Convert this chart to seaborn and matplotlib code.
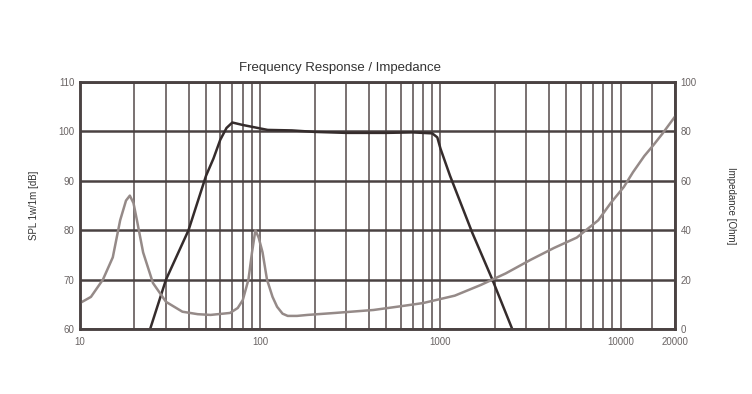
import matplotlib
matplotlib.use("Agg")
import matplotlib.pyplot as plt
import matplotlib.ticker as mticker
import seaborn as sns
import pandas as pd

# SPL curve (left axis, dB)
spl_freq = [24.5, 30, 40, 50, 55, 60, 65, 70, 80, 88, 110, 150, 200, 300, 500, 700, 900, 960, 1000, 1130, 1500, 1940, 2500]
spl_db = [60, 70, 80, 91.0, 94.5, 98.3, 100.7, 101.8, 101.3, 101.0, 100.3, 100.2, 99.9, 99.7, 99.7, 99.8, 99.6, 98.8, 96.5, 91, 79.5, 70, 60]

# impedance curve (right axis, ohm)
imp_freq = [10, 11.5, 13.4, 15.2, 16.7, 18.0, 18.9, 19.8, 20.7, 22.4, 25.4, 30, 37, 45, 53, 68, 75, 80, 86, 90, 94, 98, 103, 109,
            117, 124, 133, 142, 160, 183, 260, 425, 600, 800, 1200, 1670, 2300, 3160, 4260, 5700, 7500, 8800, 10400, 11700,
            13500, 15200, 17000, 20000]
imp_ohm = [10.5, 13, 20, 29, 44, 52, 54, 51, 44, 31, 18.6, 11, 7, 6.0, 5.7, 6.5, 8.5, 11.7, 20, 31, 40, 37, 31, 20,
           13, 9, 6.2, 5.3, 5.3, 5.7, 6.5, 7.7, 9.2, 10.5, 13.5, 17.8, 22.5, 28, 32.8, 37, 44, 51, 57.5, 63.5,
           70, 74.5, 79, 86]

x_ticks = [10, 100, 1000, 10000, 20000]
x_labels = ["10", "100", "1000", "10000", "20000"]
x_minor = [20, 30, 40, 50, 60, 70, 80, 90, 200, 300, 400, 500, 600, 700, 800, 900,
           2000, 3000, 4000, 5000, 6000, 7000, 8000, 9000, 15000]
spl_ticks = [60, 70, 80, 90, 100, 110]
imp_ticks = [0, 20, 40, 60, 80, 100]

sns.set_theme(style="white")
plt.rcParams["font.family"] = ["Liberation Sans", "DejaVu Sans"]

grid_c = "#4a4242"
txt_c = "#6a6464"

fig = plt.figure(figsize=(7.52, 3.94), dpi=100)
ax = fig.add_axes([80 / 752, 1 - 329 / 394, 595 / 752, 247 / 394])
ax2 = ax.twinx()

spl_df = pd.DataFrame({"freq": spl_freq, "spl": spl_db})
imp_df = pd.DataFrame({"freq": imp_freq, "imp": imp_ohm})

ax.set_xscale("log")
ax.set_xlim(10, 20000)
ax.set_ylim(60, 110)
ax2.set_ylim(0, 100)

ax.set_xticks(x_ticks)
ax.set_xticklabels(x_labels)
ax.xaxis.set_minor_locator(mticker.FixedLocator(x_minor))
ax.xaxis.set_minor_formatter(mticker.NullFormatter())
ax.set_yticks(spl_ticks)
ax2.set_yticks(imp_ticks)

ax.grid(True, which="major", axis="y", color=grid_c, lw=1.8)
ax.grid(True, which="both", axis="x", color="#6e6666", lw=1.3)
ax.set_axisbelow(True)

sns.lineplot(data=imp_df, x="freq", y="imp", ax=ax2, color="#958a88", lw=1.8)
sns.lineplot(data=spl_df, x="freq", y="spl", ax=ax, color="#352c2c", lw=1.8)

for a in (ax, ax2):
    for s in a.spines.values():
        s.set_color(grid_c)
        s.set_linewidth(1.8)
    a.tick_params(axis="both", which="both", length=0, labelsize=7, labelcolor=txt_c, pad=4)
    a.set_xlabel("")
    a.set_ylabel("")

ax.tick_params(axis="x", pad=6)
ax.set_ylabel("SPL 1w/1m [dB]", fontsize=7, color="#333", labelpad=14)
ax2.set_ylabel("Impedance [Ohm]", fontsize=7, color="#333", rotation=270, labelpad=28)

fig.text(340 / 752, 1 - 68 / 394, "Frequency Response / Impedance", ha="center", va="center",
         fontsize=9.5, color="#333")

fig.savefig("out.png", dpi=100, facecolor="white")
